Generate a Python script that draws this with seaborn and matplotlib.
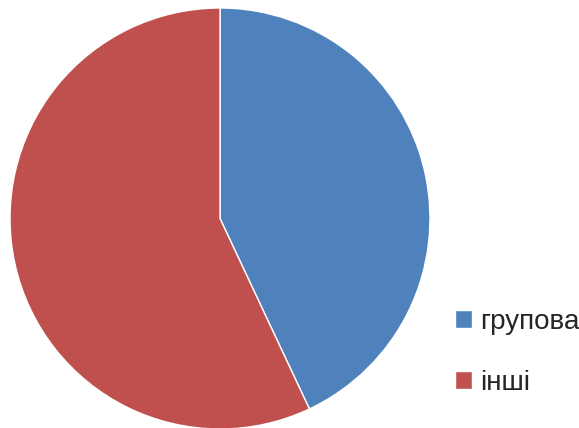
import matplotlib
matplotlib.use("Agg")
import matplotlib.pyplot as plt
import seaborn as sns

# data
labels = ["групова", "інші"]
shares = [43, 57]
colors = ["#4F81BD", "#C0504D"]

sns.set_style("white")
plt.rcParams['font.family'] = ['Liberation Sans', 'DejaVu Sans']

fig = plt.figure(figsize=(5.79, 4.28), dpi=100)
W, H = 579, 428
# pie axes placed in pixel terms
ax = fig.add_axes([10 / W, (H - 429) / H, 420 / W, 421 / H])
wedges, _ = ax.pie(shares, colors=sns.color_palette(colors), startangle=90,
                   counterclock=False, radius=1,
                   wedgeprops=dict(edgecolor="white", linewidth=1))
ax.set_xlim(-1, 1)
ax.set_ylim(-1, 1)
ax.set_aspect("auto")
ax.axis("off")

fig.legend(wedges, labels, loc="upper left",
           bbox_to_anchor=(455 / W, 1 - 309 / H),
           frameon=False, fontsize=20, handlelength=0.6, handleheight=0.6,
           handletextpad=0.3, labelspacing=1.25, borderpad=0, borderaxespad=0)

fig.savefig("out.png", dpi=100)
